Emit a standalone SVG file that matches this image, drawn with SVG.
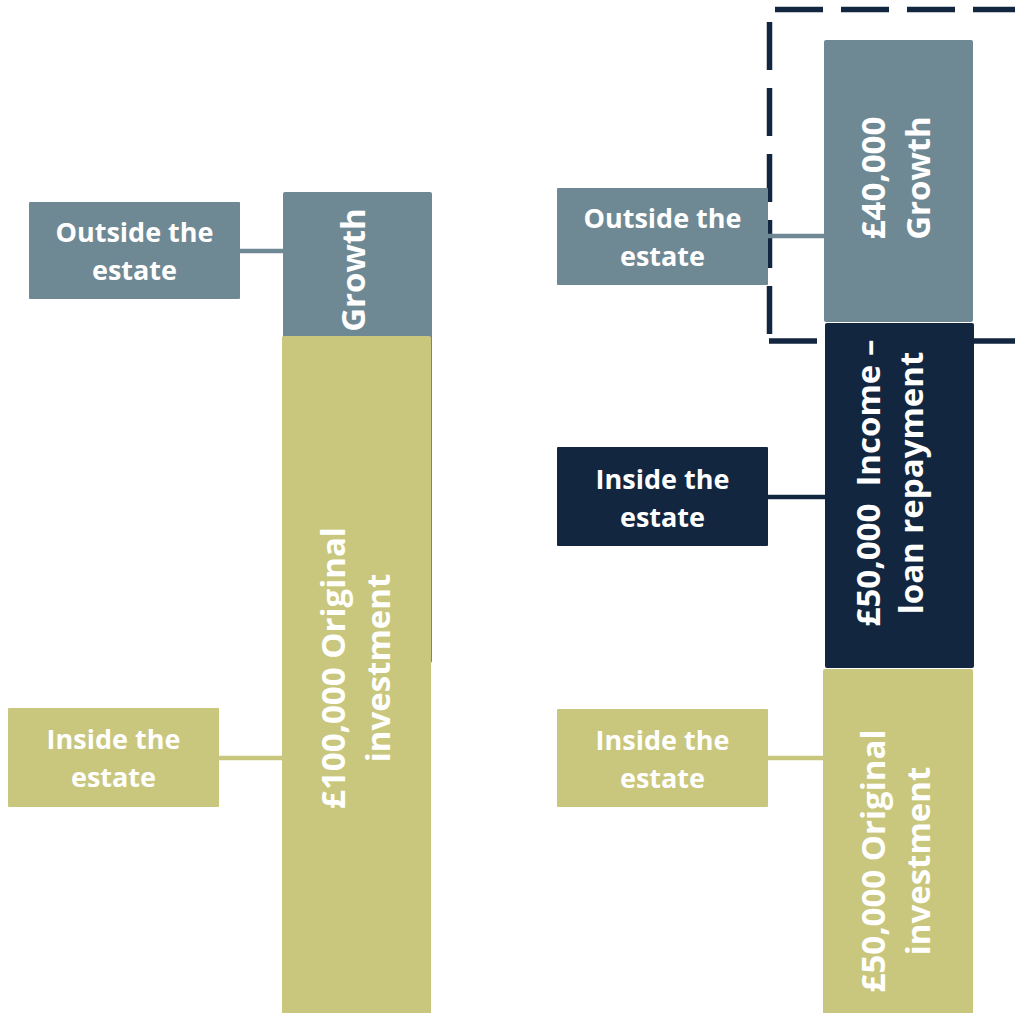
<svg xmlns="http://www.w3.org/2000/svg" width="1015" height="1013" viewBox="0 0 1015 1013">
<style>
.grey{fill:#6F8994}
.tan{fill:#C9C77D}
.navy{fill:#12263F}
.lbl{font-family:"Open Sans","Liberation Sans",sans-serif;font-weight:bold;font-size:27px;fill:#FFFFFF;text-anchor:middle}
.vt{font-family:"Open Sans","Liberation Sans",sans-serif;font-weight:bold;font-size:33px;fill:#FFFFFF;text-anchor:middle}
.dash{fill:none;stroke:#12263F;stroke-width:5.5;stroke-dasharray:48 18}
.c{fill:none;stroke-width:4.5}
</style>
<rect width="1015" height="1013" fill="#FFFFFF"/>
<g id="dashed-boundary">
<path class="dash" d="M775,9.5 H1015"/>
<path class="dash" d="M769.5,22 V335"/>
<path class="dash" d="M769,341 H1015"/>
</g>
<g id="connectors">
<path class="c" stroke="#6F8994" d="M240,251 H284"/>
<path class="c" stroke="#C9C77D" d="M219,758 H283"/>
<path class="c" stroke="#6F8994" d="M768,236 H825"/>
<path class="c" stroke="#12263F" d="M768,497 H826"/>
<path class="c" stroke="#C9C77D" d="M768,758 H824"/>
</g>
<g id="left-growth">
<rect class="grey" x="283" y="192" width="149" height="471" rx="2"/>
<text class="vt" transform="translate(365,270) rotate(-90)" x="0" y="0">Growth</text>
</g>
<g id="left-original">
<rect class="tan" x="282" y="336" width="149" height="690" rx="2"/>
<text class="vt" transform="translate(345,668) rotate(-90)"><tspan x="0" y="0">£100,000 Original</tspan><tspan x="0" y="45">investment</tspan></text>
</g>
<g id="left-outside-label">
<rect class="grey" x="29" y="202" width="211" height="97" rx="1"/>
<text class="lbl"><tspan x="134.5" y="242">Outside the</tspan><tspan x="134.5" y="280">estate</tspan></text>
</g>
<g id="left-inside-label">
<rect class="tan" x="8" y="708" width="211" height="99" rx="1"/>
<text class="lbl"><tspan x="113.5" y="749">Inside the</tspan><tspan x="113.5" y="787">estate</tspan></text>
</g>
<g id="right-growth">
<rect class="grey" x="824" y="40" width="149" height="282" rx="2"/>
<text class="vt" transform="translate(885,178) rotate(-90)"><tspan x="0" y="0">£40,000</tspan><tspan x="0" y="45">Growth</tspan></text>
</g>
<g id="right-income">
<rect class="navy" x="825" y="323" width="149" height="345" rx="2"/>
<text class="vt" transform="translate(880,483) rotate(-90)" xml:space="preserve"><tspan x="0" y="0">£50,000  Income –</tspan><tspan x="0" y="43">loan repayment</tspan></text>
</g>
<g id="right-original">
<rect class="tan" x="823" y="669" width="150" height="360" rx="2"/>
<text class="vt" transform="translate(885,861) rotate(-90)"><tspan x="0" y="0">£50,000 Original</tspan><tspan x="0" y="45">investment</tspan></text>
</g>
<g id="right-outside-label">
<rect class="grey" x="557" y="188" width="211" height="97" rx="1"/>
<text class="lbl"><tspan x="662.5" y="228">Outside the</tspan><tspan x="662.5" y="266">estate</tspan></text>
</g>
<g id="right-inside-navy-label">
<rect class="navy" x="557" y="447" width="211" height="99" rx="1"/>
<text class="lbl"><tspan x="662.5" y="489">Inside the</tspan><tspan x="662.5" y="527">estate</tspan></text>
</g>
<g id="right-inside-tan-label">
<rect class="tan" x="557" y="709" width="211" height="98" rx="1"/>
<text class="lbl"><tspan x="662.5" y="749.5">Inside the</tspan><tspan x="662.5" y="787.5">estate</tspan></text>
</g>
</svg>
